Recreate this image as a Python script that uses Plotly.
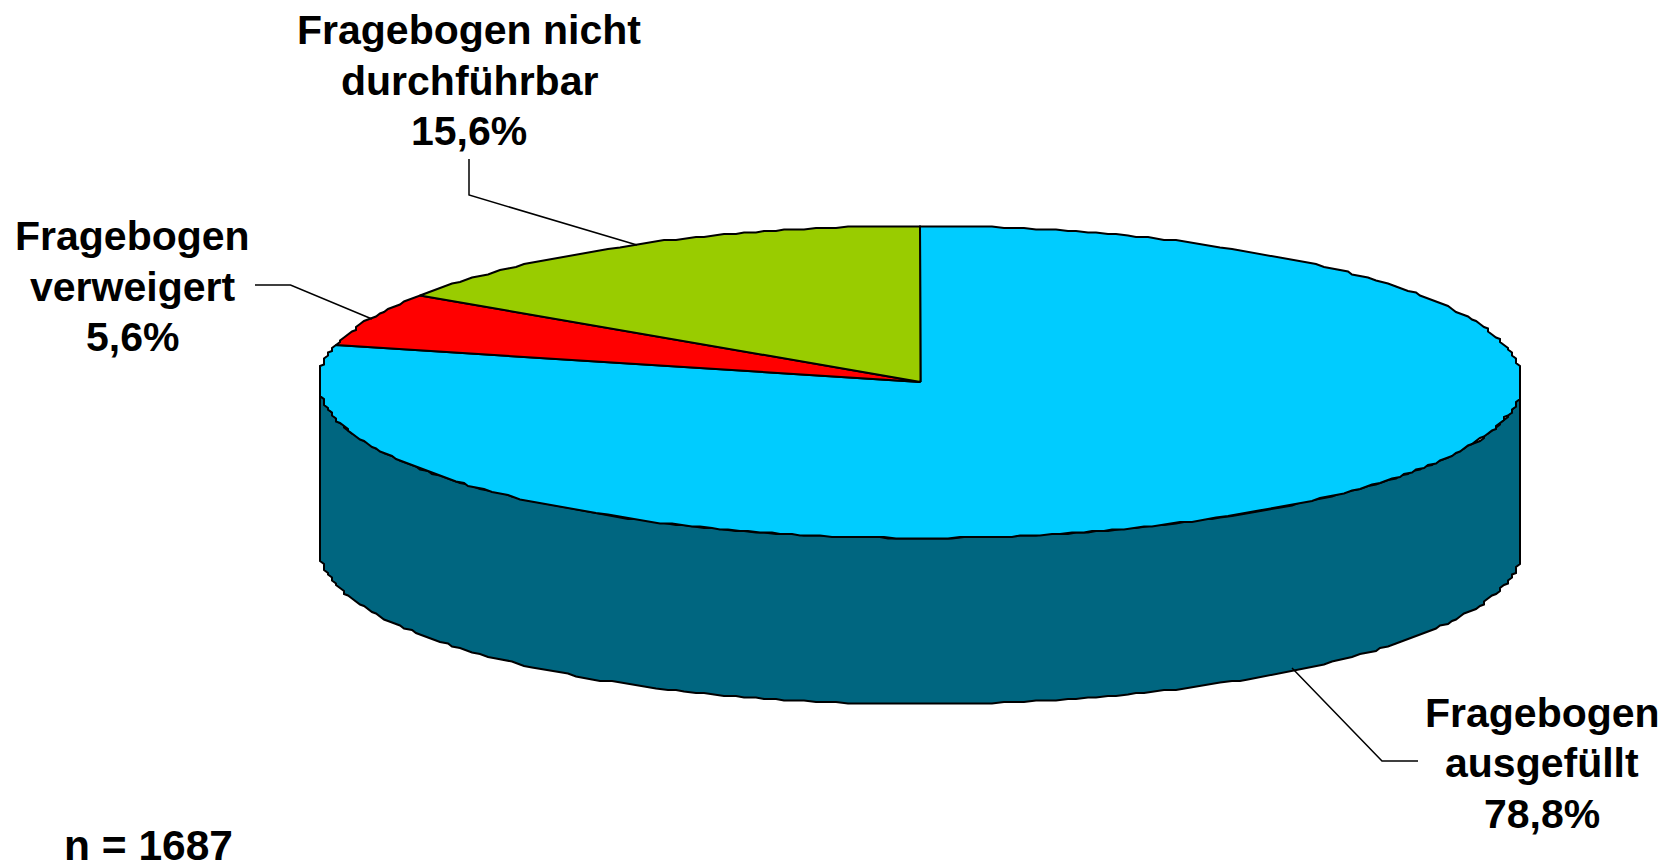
import numpy as np
import plotly.graph_objects as go

# Data
categories = ["Fragebogen ausgefüllt", "Fragebogen verweigert", "Fragebogen nicht durchführbar"]
values = [78.8, 5.6, 15.6]
sample_size = 1687
slice_colors = ["#00CCFF", "#FF0000", "#99CC00"]
side_color = "#006680"

label_lines = [
    ["Fragebogen", "ausgefüllt", "78,8%"],
    ["Fragebogen", "verweigert", "5,6%"],
    ["Fragebogen nicht", "durchführbar", "15,6%"],
]
label_centers = [1542, 132, 469]
label_first_baseline = [727.5, 251, 45]
line_step = 50.5
leaders = [
    ([1292, 1382, 1418], [668, 761, 761]),
    ([255, 290.5, 372], [285, 285, 319]),
    ([469, 469, 637], [159, 195, 245]),
]

# Pie geometry
CX, CY, RX, RY, DEPTH = 920.5, 382, 601.5, 156, 166
FONT = "Liberation Sans, Arial, sans-serif"
FS = 41


def edge(a0, a1, dy=0.0, step=1.0):
    n = max(2, int(abs(a1 - a0) / step) + 1)
    t = np.radians(np.linspace(a0, a1, n))
    x = CX + RX * np.sin(t)
    y = CY + dy - RY * np.cos(t)
    # coarse vertex grid gives the rough raster-style outline of the original
    return np.round(x / 4) * 4, np.round(y / 1.5) * 1.5


fig = go.Figure()

# Cylinder side (front half only)
xt, yt = edge(90, 270)
xb, yb = edge(90, 270, DEPTH)
fig.add_trace(go.Scatter(
    x=np.r_[xt, xb[::-1], xt[0]], y=np.r_[yt, yb[::-1], yt[0]],
    mode="lines", fill="toself", fillcolor=side_color,
    line=dict(color="black", width=2), hoverinfo="skip", showlegend=False,
))

# Top face slices, clockwise from 12 o'clock
cum = 0.0
for name, v, c in zip(categories, values, slice_colors):
    a0 = cum / sum(values) * 360
    cum += v
    a1 = cum / sum(values) * 360
    xe, ye = edge(a0, a1)
    fig.add_trace(go.Scatter(
        x=np.r_[CX, xe, CX], y=np.r_[CY, ye, CY],
        mode="lines", fill="toself", fillcolor=c, name=name,
        line=dict(color="black", width=2), showlegend=False,
    ))

# Leader lines
for lx, ly in leaders:
    fig.add_trace(go.Scatter(x=lx, y=ly, mode="lines",
                             line=dict(color="black", width=1.5),
                             hoverinfo="skip", showlegend=False))

annotations = []
for lines, cx, base in zip(label_lines, label_centers, label_first_baseline):
    for i, txt in enumerate(lines):
        annotations.append(dict(x=cx, y=base + i * line_step - FS * 0.36, text=f"<b>{txt}</b>",
                                showarrow=False, xanchor="center", yanchor="middle",
                                font=dict(family=FONT, size=FS, color="black")))
annotations.append(dict(x=148, y=861 - 42.5 * 0.36, text=f"<b>n = {sample_size}</b>",
                        showarrow=False, xanchor="center", yanchor="middle",
                        font=dict(family=FONT, size=42.5, color="black")))

fig.update_layout(
    width=1670, height=863, margin=dict(l=0, r=0, t=0, b=0),
    paper_bgcolor="white", plot_bgcolor="white", showlegend=False,
    xaxis=dict(range=[0, 1670], visible=False, fixedrange=True),
    yaxis=dict(range=[863, 0], visible=False, fixedrange=True),
    annotations=annotations,
)
fig.write_html("out.html", config={"displayModeBar": False},
               post_script="document.body.style.margin='0';document.body.style.overflow='hidden';")
